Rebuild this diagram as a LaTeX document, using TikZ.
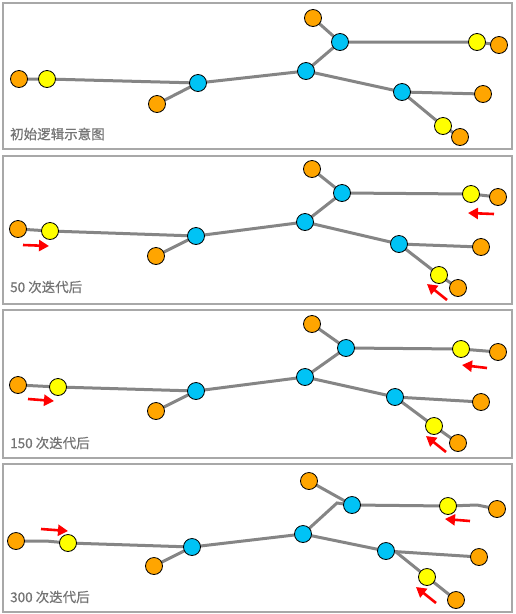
\documentclass[tikz,border=0pt]{standalone}
\usepackage{fontspec}
\newfontfamily\cjk[FakeBold=0.6]{Noto Sans CJK SC}
\usetikzlibrary{arrows.meta,backgrounds}
\definecolor{nodeorange}{HTML}{FFA500}
\definecolor{nodeyellow}{HTML}{FFFF00}
\definecolor{nodeblue}{HTML}{00C3F5}
\definecolor{edgegray}{HTML}{858585}
\definecolor{framegray}{HTML}{A8A8A8}
\definecolor{labelgray}{HTML}{747474}
\definecolor{arrowred}{HTML}{FF0000}
\tikzset{
  x=1pt,y=-1pt,
  vtx/.style={circle,draw=black,line width=0.8pt,minimum size=17pt,inner sep=0pt},
  orn/.style={vtx,fill=nodeorange},
  yel/.style={vtx,fill=nodeyellow},
  blu/.style={vtx,fill=nodeblue},
  edge/.style={draw=edgegray,line width=3pt},
  frame/.style={draw=framegray,line width=2pt},
  captxt/.style={anchor=west,text=labelgray,font=\cjk\fontsize{13.5pt}{15pt}\selectfont,inner sep=0pt},
  movearrow/.style={draw=arrowred,line width=2.6pt,-{Triangle[length=10pt,width=11pt]}}
}
\newcommand\treeedges[1]{%
  \begin{pgfonlayer}{background}
  \draw[edge] (#1o1.center)--(#1y1.center)--(#1b1.center)--(#1b2.center)--(#1b3.center);
  \draw[edge] (#1b1.center)--(#1o2.center);
  \draw[edge] (#1b3.center)--(#1o3.center);
  \draw[edge] (#1b3.center)--(#1y2.center)--(#1o4.center);
  \draw[edge] (#1b2.center)--(#1b4.center)--(#1o5.center);
  \draw[edge] (#1b4.center)--(#1y3.center)--(#1o6.center);
  \end{pgfonlayer}}
\begin{document}
\begin{tikzpicture}
\useasboundingbox (0,0) rectangle (515,614);
\begin{pgfonlayer}{background}
\fill[white] (0,0) rectangle (515,614);
\end{pgfonlayer}
% frames
\draw[frame] (3,3) rectangle (512,149);
\draw[frame] (3,156) rectangle (512,304);
\draw[frame] (3,310) rectangle (512,458);
\draw[frame] (3,464) rectangle (512,612);

% ---------- panel 1 ----------
\node[orn] (ao1) at (19,79) {};
\node[yel] (ay1) at (47,79) {};
\node[blu] (ab1) at (198,83) {};
\node[orn] (ao2) at (157,104) {};
\node[blu] (ab2) at (306,71) {};
\node[blu] (ab3) at (340,42) {};
\node[orn] (ao3) at (313,18) {};
\node[yel] (ay2) at (477,42) {};
\node[orn] (ao4) at (499,45) {};
\node[blu] (ab4) at (402,92) {};
\node[orn] (ao5) at (483,94) {};
\node[yel] (ay3) at (443,126) {};
\node[orn] (ao6) at (460,137) {};
\treeedges{a}
\node[captxt] (acap) at (10,134) {初始逻辑示意图};

% ---------- panel 2 ----------
\node[orn] (bo1) at (18,229) {};
\node[yel] (by1) at (50,231) {};
\node[blu] (bb1) at (196,236) {};
\node[orn] (bo2) at (156,256) {};
\node[blu] (bb2) at (305,222) {};
\node[blu] (bb3) at (342,193) {};
\node[orn] (bo3) at (312,169) {};
\node[yel] (by2) at (471,194) {};
\node[orn] (bo4) at (498,197) {};
\node[blu] (bb4) at (399,244) {};
\node[orn] (bo5) at (481,247) {};
\node[yel] (by3) at (439,275) {};
\node[orn] (bo6) at (458,288) {};
\treeedges{b}
\node[captxt] (bcap) at (10,287) {50 次迭代后};
\coordinate (bt1) at (23,245); \coordinate (bh1) at (49,246);
\coordinate (bt2) at (494,214); \coordinate (bh2) at (468,213);
\coordinate (bt3) at (447,300); \coordinate (bh3) at (427,284);
\draw[movearrow] (bt1)--(bh1);
\draw[movearrow] (bt2)--(bh2);
\draw[movearrow] (bt3)--(bh3);

% ---------- panel 3 ----------
\node[orn] (co1) at (18,385) {};
\node[yel] (cy1) at (58,387) {};
\node[blu] (cb1) at (196,391) {};
\node[orn] (co2) at (156,411) {};
\node[blu] (cb2) at (305,377) {};
\node[blu] (cb3) at (346,348) {};
\node[orn] (co3) at (312,324) {};
\node[yel] (cy2) at (461,349) {};
\node[orn] (co4) at (498,352) {};
\node[blu] (cb4) at (395,397) {};
\node[orn] (co5) at (481,402) {};
\node[yel] (cy3) at (434,426) {};
\node[orn] (co6) at (458,443) {};
\treeedges{c}
\node[captxt] (ccap) at (10,443) {150 次迭代后};
\coordinate (ct1) at (28,399); \coordinate (ch1) at (54,401);
\coordinate (ct2) at (487,368); \coordinate (ch2) at (462,365);
\coordinate (ct3) at (446,452); \coordinate (ch3) at (426,436);
\draw[movearrow] (ct1)--(ch1);
\draw[movearrow] (ct2)--(ch2);
\draw[movearrow] (ct3)--(ch3);

% ---------- panel 4 ----------
\node[orn] (do1) at (16,541) {};
\node[yel] (dy1) at (68,543) {};
\node[blu] (db1) at (192,547) {};
\node[orn] (do2) at (154,566) {};
\node[blu] (db2) at (303,534) {};
\node[blu] (db3) at (352,505) {};
\node[orn] (do3) at (309,481) {};
\node[yel] (dy2) at (448,506) {};
\node[orn] (do4) at (497,509) {};
\node[blu] (db4) at (386,551) {};
\node[orn] (do5) at (479,557) {};
\node[yel] (dy3) at (427,577) {};
\node[orn] (do6) at (456,600) {};
\coordinate (dk1) at (46,541);
\coordinate (dk2) at (337,503);
\coordinate (dk3) at (477,505);
\coordinate (dk4) at (396,552);
\begin{pgfonlayer}{background}
\draw[edge] (do1.center)--(dk1)--(dy1.center)--(db1.center)--(db2.center);
\draw[edge] (db1.center)--(do2.center);
\draw[edge] (db3.center)--(do3.center);
\draw[edge] (db2.center)--(dk2)--(db3.center)--(dy2.center)--(dk3)--(do4.center);
\draw[edge] (db2.center)--(db4.center)--(do5.center);
\draw[edge] (db4.center)--(dk4)--(dy3.center)--(do6.center);
\end{pgfonlayer}
\node[captxt] (dcap) at (10,597) {300 次迭代后};
\coordinate (dt1) at (41,529); \coordinate (dh1) at (68,531);
\coordinate (dt2) at (470,521); \coordinate (dh2) at (445,519);
\coordinate (dt3) at (436,603); \coordinate (dh3) at (416,587);
\draw[movearrow] (dt1)--(dh1);
\draw[movearrow] (dt2)--(dh2);
\draw[movearrow] (dt3)--(dh3);
\end{tikzpicture}
\end{document}
